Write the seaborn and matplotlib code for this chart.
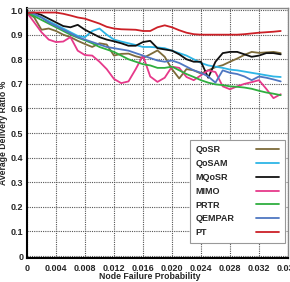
import numpy as np
import pandas as pd
import seaborn as sns
import matplotlib
matplotlib.use('Agg')
import matplotlib.pyplot as plt

sns.set_style('white')
plt.rcParams['font.family'] = ['Liberation Sans', 'DejaVu Sans']
plt.rcParams['font.weight'] = 'bold'

##### data (failure probability step 0.001)
prob = [k / 1000 for k in range(36)]

qosr = [0.99, 0.97, 0.92, 0.925, 0.915, 0.90, 0.89, 0.875, 0.862, 0.85,
        0.865, 0.86, 0.815, 0.822, 0.823, 0.812, 0.805, 0.82, 0.836, 0.81,
        0.76, 0.722, 0.76, 0.755, 0.742, 0.755, 0.768, 0.776, 0.79, 0.803,
        0.818, 0.83, 0.826, 0.828, 0.83, 0.825]
qosam = [0.99, 0.98, 0.97, 0.955, 0.94, 0.925, 0.91, 0.895, 0.89, 0.915,
         0.925, 0.90, 0.88, 0.872, 0.865, 0.858, 0.85, 0.85, 0.848, 0.845,
         0.835, 0.825, 0.815, 0.80, 0.785, 0.775, 0.77, 0.765, 0.758, 0.755,
         0.75, 0.745, 0.74, 0.735, 0.73, 0.728]
mqosr = [0.99, 0.99, 0.98, 0.965, 0.95, 0.935, 0.93, 0.94, 0.92, 0.905,
         0.89, 0.88, 0.873, 0.865, 0.855, 0.855, 0.87, 0.875, 0.845, 0.84,
         0.835, 0.82, 0.80, 0.79, 0.79, 0.725, 0.79, 0.825, 0.83, 0.83,
         0.82, 0.81, 0.815, 0.825, 0.825, 0.82]
mimo = [0.99, 0.95, 0.91, 0.88, 0.87, 0.872, 0.89, 0.835, 0.817, 0.815,
        0.79, 0.76, 0.72, 0.703, 0.71, 0.76, 0.815, 0.73, 0.708, 0.725,
        0.77, 0.765, 0.728, 0.715, 0.735, 0.755, 0.748, 0.69, 0.678, 0.69,
        0.70, 0.707, 0.715, 0.68, 0.642, 0.658]
prtr = [0.99, 0.975, 0.96, 0.945, 0.93, 0.915, 0.90, 0.888, 0.877, 0.865,
        0.85, 0.84, 0.83, 0.815, 0.80, 0.79, 0.78, 0.775, 0.765, 0.765,
        0.77, 0.755, 0.74, 0.728, 0.715, 0.705, 0.698, 0.695, 0.69, 0.688,
        0.685, 0.68, 0.672, 0.665, 0.66, 0.654]
qempar = [0.99, 0.985, 0.97, 0.95, 0.935, 0.92, 0.905, 0.89, 0.88, 0.87,
          0.86, 0.85, 0.845, 0.84, 0.835, 0.825, 0.815, 0.805, 0.795, 0.79,
          0.795, 0.785, 0.77, 0.755, 0.745, 0.73, 0.705, 0.755, 0.745, 0.74,
          0.73, 0.715, 0.73, 0.725, 0.718, 0.71]
pt = [0.988, 0.99, 0.99, 0.99, 0.99, 0.985, 0.978, 0.97, 0.965, 0.955,
      0.945, 0.932, 0.925, 0.922, 0.921, 0.92, 0.915, 0.915, 0.93, 0.938,
      0.93, 0.918, 0.908, 0.902, 0.90, 0.90, 0.90, 0.90, 0.90, 0.90,
      0.902, 0.905, 0.908, 0.91, 0.912, 0.915]

protocols = ['QoSR', 'QoSAM', 'MQoSR', 'MIMO', 'PRTR', 'QEMPAR', 'PT']
colors = ['#7d6b3a', '#2db5e6', '#111111', '#e6398a', '#2fae3f', '#4f77c2', '#cc2027']
series = [qosr, qosam, mqosr, mimo, prtr, qempar, pt]

xticks = [0, 0.004, 0.008, 0.012, 0.016, 0.020, 0.024, 0.028, 0.032, 0.036]
xtick_labels = ['0', '0.004', '0.008', '0.012', '0.016', '0.020', '0.024',
                '0.028', '0.032', '0.036']
yticks = [0, 0.1, 0.2, 0.3, 0.4, 0.5, 0.6, 0.7, 0.8, 0.9, 1.0]
ytick_labels = ['0', '0.1', '0.2', '0.3', '0.4', '0.5', '0.6', '0.7', '0.8', '0.9', '1.0']

rows = []
for name, vals in zip(protocols, series):
    for p, v in zip(prob, vals):
        rows.append((name, p, v))
df = pd.DataFrame(rows, columns=['protocol', 'prob', 'ratio'])

### plot
fig = plt.figure(figsize=(2.9, 2.82), dpi=100)
ax = fig.add_axes([0.093, 0.085, 0.9, 0.888])

sns.lineplot(data=df, x='prob', y='ratio', hue='protocol', hue_order=protocols,
             palette=colors, linewidth=1.3, ax=ax)

ax.set_xlim(0, 0.036)
ax.set_ylim(-0.008, 1.01)
ax.set_xticks(xticks)
ax.set_xticklabels(xtick_labels)
ax.set_yticks(yticks)
ax.set_yticklabels(ytick_labels)
ax.tick_params(length=0, labelsize=6.5)
ax.tick_params(axis='x', pad=4)
ax.tick_params(axis='y', pad=2.5)
for lab in ax.get_xticklabels() + ax.get_yticklabels():
    lab.set_fontweight('bold')

ax.grid(True, color='#555555', linestyle=(0, (1, 1)), linewidth=0.8)
ax.set_axisbelow(True)

for s in ['left', 'bottom']:
    ax.spines[s].set_color('black')
    ax.spines[s].set_linewidth(1.5)
for s in ['top', 'right']:
    ax.spines[s].set_color('#888888')
    ax.spines[s].set_linewidth(1.0)

ax.set_xlabel('Node Failure Probability', fontsize=6.3, fontweight='bold')
ax.set_ylabel('Average Delivery Ratio %', fontsize=6.2, fontweight='bold')
ax.xaxis.set_label_coords(0.472, -0.056)
ax.yaxis.set_label_coords(-0.072, 0.5)

handles, labels = ax.get_legend_handles_labels()
leg = ax.legend(handles, labels, loc='lower right', bbox_to_anchor=(0.99, 0.06),
                fontsize=6.5, frameon=True, fancybox=False, framealpha=1,
                edgecolor='#999999', labelspacing=0.53, handlelength=2.6,
                borderpad=0.65, borderaxespad=0)
leg.get_frame().set_linewidth(0.8)
for t in leg.get_texts():
    t.set_fontweight('bold')
for h in leg.get_lines():
    h.set_linewidth(1.3)

# put the label first and push each sample line to the right edge of the box
for item in leg._legend_handle_box.get_children()[0].get_children():
    item._children.reverse()
    item.mode = 'expand'
    item.width = 84

fig.savefig('out.png', dpi=100)
